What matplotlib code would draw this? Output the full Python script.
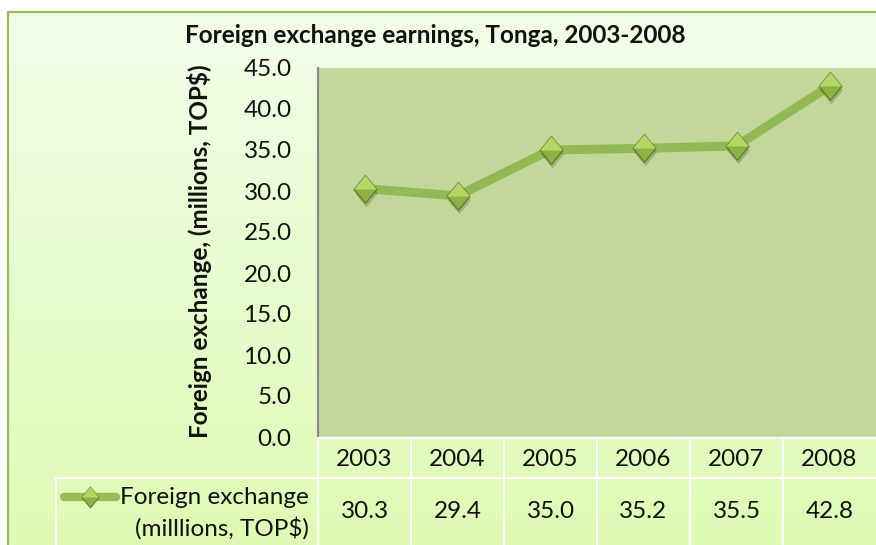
import matplotlib
matplotlib.use("Agg")
import matplotlib.pyplot as plt
import matplotlib.transforms as mtransforms
from matplotlib.path import Path
import numpy as np

# data
years = ["2003", "2004", "2005", "2006", "2007", "2008"]
values = [30.3, 29.4, 35.0, 35.2, 35.5, 42.8]
yticks = [0, 5, 10, 15, 20, 25, 30, 35, 40, 45]

plt.rcParams['font.family'] = ['Lato', 'DejaVu Sans']
FS = 17.5
TXT = "#111111"

W, H = 876, 545
fig = plt.figure(figsize=(W / 100, H / 100), dpi=100)
fig.patch.set_facecolor("white")

def fx(px):
    return px / W

def fy(py):
    return 1 - py / H

# chart background with vertical gradient
bg = fig.add_axes([0, 0, 1, 1], zorder=-10)
bg.set_xlim(0, W)
bg.set_ylim(H, 0)
bg.axis("off")
top_c = np.array([0xf2, 0xfd, 0xe9]) / 255
bot_c = np.array([0xdf, 0xfa, 0xb4]) / 255
t = np.linspace(0, 1, 256)[:, None]
grad = (top_c * (1 - t) + bot_c * t)[:, None, :]
bg.imshow(grad, extent=[8, W, H, 12], aspect="auto")
bg.plot([8, 8, W], [H, 12, 12], color="#9bbb59", lw=1.6)

# plot area
x0, x1, y0, y1 = 318, W, 68, 437
ax = fig.add_axes([fx(x0), fy(y1), fx(x1 - x0), fy(y0) - fy(y1)])
ax.set_facecolor("#c4d79b")
x = np.arange(len(years))
ax.set_xlim(-0.5, len(years) - 0.5)
ax.set_ylim(0, 45)
ax.set_yticks(yticks)
ax.set_yticklabels(["%.1f" % v for v in yticks], fontsize=FS, color=TXT)
ax.tick_params(axis="y", length=0, pad=19)
ax.set_xticks([])
for s in ["top", "right", "bottom"]:
    ax.spines[s].set_visible(False)
ax.spines["left"].set_color("#868686")
ax.spines["left"].set_linewidth(1.5)

fig.text(fx(199), fy(251), "Foreign exchange, (millions, TOP$)", rotation=90,
         ha="center", va="center", fontsize=17.5, fontweight="bold", color=TXT)
fig.text(fx(435), fy(35), "Foreign exchange earnings, Tonga, 2003-2008",
         ha="center", va="center", fontsize=17.5, fontweight="bold", color=TXT)

# diamond marker (slightly taller than wide) and its upper half
dia = Path([(-0.41, 0), (0, 0.5), (0.41, 0), (0, -0.5), (-0.41, 0)],
           [1, 2, 2, 2, 79])
dia_top = Path([(-0.41, 0), (0, 0.5), (0.41, 0), (-0.41, 0)], [1, 2, 2, 79])
MS = 20

ax.plot(x, values, color="#93b956", lw=6.5, solid_capstyle="butt", zorder=3)
ax.plot(x + 0.02, np.array(values) - 0.5, ls="none", marker=dia, ms=MS,
        mfc="#000000", mec="none", alpha=0.18, zorder=4)
ax.plot(x, values, ls="none", marker=dia, ms=MS, mfc="#8db244",
        mec="#5f7a2a", mew=0.9, zorder=5)
ax.plot(x, values, ls="none", marker=dia_top, ms=MS, mfc="#b4d662",
        mec="none", zorder=6)

# data table under the plot
tr = mtransforms.blended_transform_factory(ax.transData, fig.transFigure)
hdr_top, row_top = 438, 478
for i, yr in enumerate(years):
    ax.text(i, fy(459), yr, transform=tr, ha="center", va="center",
            fontsize=FS, color=TXT)
    ax.text(i, fy(512), "%.1f" % values[i], transform=tr, ha="center",
            va="center", fontsize=FS, color=TXT)
lkw = dict(color="white", lw=1.5, clip_on=False, transform=fig.transFigure)
fig.add_artist(plt.Line2D([fx(x0), 1], [fy(hdr_top)] * 2, **lkw))
fig.add_artist(plt.Line2D([fx(56), 1], [fy(row_top)] * 2, **lkw))
fig.add_artist(plt.Line2D([fx(56)] * 2, [fy(row_top), 0], **lkw))
for k in range(len(years)):
    xb = ax.transData.transform((k - 0.5, 0))[0] / W
    fig.add_artist(plt.Line2D([xb] * 2, [fy(hdr_top), 0], **lkw))

# legend key in the table
fig.add_artist(plt.Line2D([fx(64), fx(116)], [fy(497)] * 2, color="#9bbb59",
                          lw=6, solid_capstyle="round",
                          transform=fig.transFigure))
fig.add_artist(plt.Line2D([fx(90)], [fy(497)], ls="none", marker=dia, ms=15,
                          mfc="#8db244", mec="#5f7a2a", mew=0.7,
                          transform=fig.transFigure))
fig.add_artist(plt.Line2D([fx(90)], [fy(497)], ls="none", marker=dia_top,
                          ms=15, mfc="#b4d662", mec="none",
                          transform=fig.transFigure))
fig.text(fx(309), fy(497), "Foreign exchange", ha="right", va="center",
         fontsize=FS, color=TXT)
fig.text(fx(309), fy(528), "(milllions, TOP$)", ha="right", va="center",
         fontsize=FS, color=TXT)

fig.savefig("out.png", dpi=100)
